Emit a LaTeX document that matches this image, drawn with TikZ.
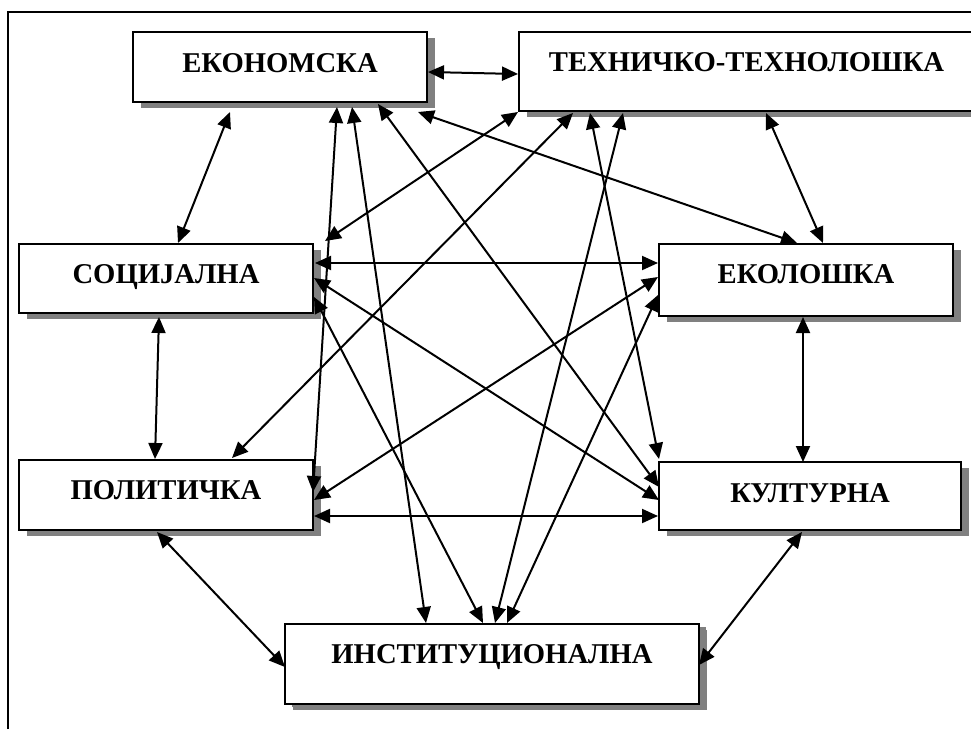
\documentclass[tikz,border=0pt]{standalone}
\usepackage{fontspec}
\setmainfont{Liberation Serif}
\usetikzlibrary{arrows.meta,shadows,calc}
\tikzset{bigtip/.tip={Triangle[length=12pt,width=10.5pt]}}
\begin{document}
\begin{tikzpicture}[x=0.75pt,y=-0.75pt,
  box/.style={draw, line width=1.5pt, fill=white, inner sep=0pt,
    drop shadow={shadow xshift=6pt, shadow yshift=-4.5pt, fill=gray, opacity=1}},
  lbl/.style={anchor=base, font=\fontsize{21.5pt}{24pt}\selectfont\bfseries, inner sep=0pt},
  con/.style={line width=1.5pt, bigtip-bigtip}]
\useasboundingbox (0,0) rectangle (971,729);
\draw[line width=1pt] (8,729) -- (8,12) -- (971,12);

\node[box, minimum width=220.5pt, minimum height=52.5pt] (ek) at (280,67) {};
\node[box, minimum width=341.25pt, minimum height=59.25pt] (teh) at (746.5,71.5) {};
\node[box, minimum width=220.5pt, minimum height=51.75pt] (soc) at (166,278.5) {};
\node[box, minimum width=220.5pt, minimum height=54pt] (ekol) at (806,280) {};
\node[box, minimum width=220.5pt, minimum height=52.5pt] (pol) at (166,495) {};
\node[box, minimum width=226.5pt, minimum height=51pt] (kul) at (810,496) {};
\node[box, minimum width=310.5pt, minimum height=60pt,
  drop shadow={shadow xshift=5pt, shadow yshift=-2.5pt, fill=gray, opacity=1}] (ins) at (492,664) {};

\node[lbl] (tek) at (280,72) {ЕКОНОМСКА};
\node[lbl] (tteh) at (746.5,71) {ТЕХНИЧКО-ТЕХНОЛОШКА};
\node[lbl] (tsoc) at (166,283) {СОЦИЈАЛНА};
\node[lbl] (tekol) at (806,283) {ЕКОЛОШКА};
\node[lbl] (tpol) at (166,499.5) {ПОЛИТИЧКА};
\node[lbl] (tkul) at (810,502) {КУЛТУРНА};
\node[lbl] (tins) at (492,663) {ИНСТИТУЦИОНАЛНА};

% neighbours
\draw[con] ($(ek.center)+(148,5)$) -- ($(teh.center)+(-228.5,2.5)$);
\draw[con] ($(ek.center)+(-50,45)$) -- ($(soc.center)+(12,-35.5)$);
\draw[con] ($(teh.center)+(19.5,41.5)$) -- ($(ekol.center)+(17,-37)$);
\draw[con] ($(soc.center)+(149,-15.5)$) -- ($(ekol.center)+(-148,-17)$);
\draw[con] ($(soc.center)+(-7,38.5)$) -- ($(pol.center)+(-11,-36)$);
\draw[con] ($(ekol.center)+(-3,37)$) -- ($(kul.center)+(-7,-34)$);
\draw[con] ($(pol.center)+(148,21)$) -- ($(kul.center)+(-152,20)$);
\draw[con] ($(pol.center)+(-9,37)$) -- ($(ins.center)+(-207,3)$);
\draw[con] ($(kul.center)+(-8,36)$) -- ($(ins.center)+(207,1)$);
% diagonals
\draw[con] ($(ek.center)+(138,45)$) -- ($(ekol.center)+(-9,-37)$);
\draw[con] ($(teh.center)+(-228.5,40.5)$) -- ($(soc.center)+(159,-37.5)$);
\draw[con] ($(ek.center)+(57,40)$) -- ($(pol.center)+(147,-3)$);
\draw[con] ($(ek.center)+(72,40)$) -- ($(ins.center)+(-66,-41)$);
\draw[con] ($(ek.center)+(98,37)$) -- ($(kul.center)+(-151,-9)$);
\draw[con] ($(teh.center)+(-173.5,41.5)$) -- ($(pol.center)+(66,-37)$);
\draw[con] ($(teh.center)+(-156.5,41.5)$) -- ($(kul.center)+(-151,-37)$);
\draw[con] ($(teh.center)+(-123.5,41.5)$) -- ($(ins.center)+(3,-41)$);
\draw[con] ($(soc.center)+(148,18.5)$) -- ($(ins.center)+(-9,-41)$);
\draw[con] ($(soc.center)+(148,-0.5)$) -- ($(kul.center)+(-151,4)$);
\draw[con] ($(ekol.center)+(-148,-3)$) -- ($(pol.center)+(148,5)$);
\draw[con] ($(ekol.center)+(-148,15)$) -- ($(ins.center)+(15,-41)$);
\end{tikzpicture}
\end{document}
